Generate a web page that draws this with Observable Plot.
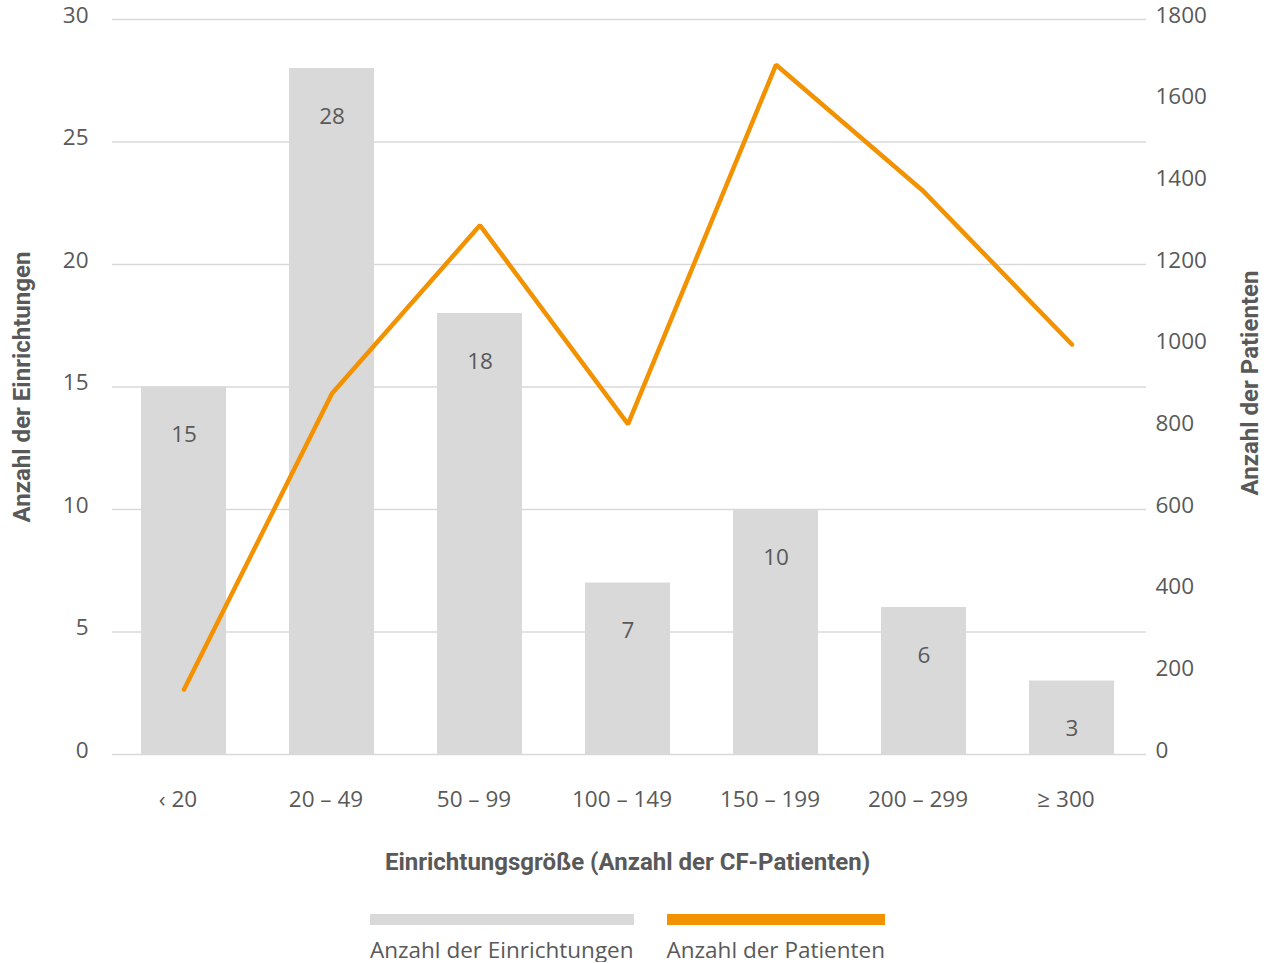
<!DOCTYPE html>
<html>
<head>
<meta charset="utf-8">
<script src="https://cdn.jsdelivr.net/npm/d3@7"></script>
<script src="https://cdn.jsdelivr.net/npm/@observablehq/plot@0.6"></script>
<style>
  body { margin: 0; background: #fff; font-family: "Open Sans", sans-serif; color: #595959; }
  #chart svg { display: block; }
  #legend { display: flex; gap: 33px; padding-left: 370px; margin-top: 19px; }
  .item { display: inline-block; }
  .swatch { height: 11px; }
  .label { font-size: 22.5px; line-height: 1; margin-top: 14px; white-space: nowrap; }
</style>
</head>
<body>
<div id="chart"></div>
<div id="legend"></div>
<script>
// Einrichtungsgröße classes (number of CF patients per centre)
const categories = ["‹ 20", "20 – 49", "50 – 99", "100 – 149", "150 – 199", "200 – 299", "≥ 300"];
// Number of centres per class (left axis)
const einrichtungen = [15, 28, 18, 7, 10, 6, 3];
// Number of patients per class (right axis)
const patienten = [159, 884, 1296, 809, 1689, 1378, 1004];
// Axis ticks
const leftTicks = [0, 5, 10, 15, 20, 25, 30];
const rightTicks = [0, 200, 400, 600, 800, 1000, 1200, 1400, 1600, 1800];

const seriesNames = ["Anzahl der Einrichtungen", "Anzahl der Patienten"];
const seriesColors = ["#d9d9d9", "#f39200"];
const textColor = "#595959";

// Right axis shares the left y scale: 30 on the left corresponds to 1800 on the right
const ratio = 1800 / 30;

const rows = categories.map((c, i) => ({ kategorie: c, einrichtungen: einrichtungen[i], patienten: patienten[i] }));

const titleFont = "Roboto, sans-serif";
const fs = 22.5;

const chart = Plot.plot({
  width: 1277,
  height: 895,
  marginLeft: 112,
  marginRight: 131,
  marginTop: 19,
  marginBottom: 141,
  style: { fontFamily: "'Open Sans', sans-serif", fontSize: fs + "px", color: textColor, background: "#fff" },
  x: { domain: categories, range: [109.5, 1145.5], paddingInner: 0.426, paddingOuter: 0.213, label: null },
  y: { domain: [0, 30], label: null },
  marks: [
    Plot.gridY(leftTicks, { stroke: "#d9d9d9", strokeOpacity: 1, strokeWidth: 1.3 }),
    Plot.barY(rows, { x: "kategorie", y: "einrichtungen", fill: seriesColors[0] }),
    Plot.text(rows, { x: "kategorie", y: "einrichtungen", text: d => String(d.einrichtungen), dy: 48, fill: textColor, fontSize: fs }),
    Plot.line(rows, { x: "kategorie", y: d => d.patienten / ratio, stroke: seriesColors[1], strokeWidth: 4.5, strokeLinecap: "round", strokeLinejoin: "miter" }),
    Plot.axisY(leftTicks, { anchor: "left", tickSize: 0, tickPadding: 24, dy: -4, label: null, fontSize: fs }),
    Plot.axisY(rightTicks.map(v => v / ratio), { anchor: "right", tickSize: 0, tickPadding: 9, dy: -4, label: null, fontSize: fs, tickFormat: v => String(Math.round(v * ratio)) }),
    Plot.axisX({ tickSize: 0, tickPadding: 37, dx: -6, label: null, fontSize: fs }),
    Plot.text(["Anzahl der Einrichtungen"], { frameAnchor: "left", textAnchor: "middle", dx: -90, rotate: -90, fontSize: 24, fontWeight: "bold", fontFamily: titleFont, fill: textColor }),
    Plot.text(["Anzahl der Patienten"], { frameAnchor: "right", textAnchor: "middle", dx: 104, dy: -4, rotate: -90, fontSize: 24, fontWeight: "bold", fontFamily: titleFont, fill: textColor }),
    Plot.text(["Einrichtungsgröße (Anzahl der CF-Patienten)"], { frameAnchor: "bottom", dx: -2, dy: 115, fontSize: 24, fontWeight: "bold", fontFamily: titleFont, fill: textColor })
  ]
});
document.getElementById("chart").appendChild(chart);

// Legend below the chart: a swatch bar above each series name
const legend = document.getElementById("legend");
seriesNames.forEach((name, i) => {
  const item = document.createElement("div");
  item.className = "item";
  const sw = document.createElement("div");
  sw.className = "swatch";
  sw.style.background = seriesColors[i];
  const lab = document.createElement("div");
  lab.className = "label";
  lab.textContent = name;
  item.appendChild(sw);
  item.appendChild(lab);
  legend.appendChild(item);
});
</script>
</body>
</html>
